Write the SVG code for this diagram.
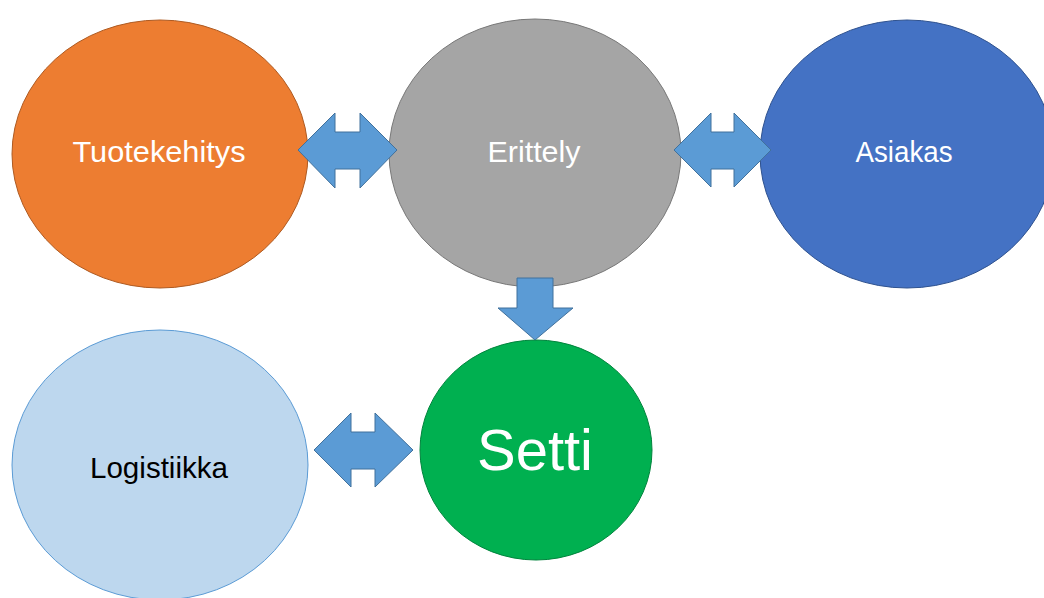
<svg xmlns="http://www.w3.org/2000/svg" width="1044" height="598" viewBox="0 0 1044 598">
<defs>
<style>
.lbl{font-family:"Liberation Sans",Arial,sans-serif;font-size:30px;text-anchor:middle;fill:#ffffff}
.arr{fill:#5B9BD5;stroke:#41719C;stroke-width:1}
</style>
</defs>
<rect width="1044" height="598" fill="#ffffff"/>
<g id="tuotekehitys">
<ellipse cx="160" cy="154" rx="148" ry="134" fill="#ED7D31" stroke="#AE5A21" stroke-width="1"/>
<text class="lbl" x="159" y="162" textLength="173" lengthAdjust="spacingAndGlyphs">Tuotekehitys</text>
</g>
<g id="erittely">
<ellipse cx="535" cy="153" rx="146" ry="134" fill="#A5A5A5" stroke="#787878" stroke-width="1"/>
<text class="lbl" x="534" y="162" textLength="93" lengthAdjust="spacingAndGlyphs">Erittely</text>
</g>
<g id="asiakas">
<ellipse cx="907" cy="154" rx="147" ry="134" fill="#4472C4" stroke="#2F528F" stroke-width="1"/>
<text class="lbl" x="904" y="162" textLength="97" lengthAdjust="spacingAndGlyphs">Asiakas</text>
</g>
<g id="logistiikka">
<ellipse cx="160" cy="465" rx="148" ry="135" fill="#BDD7EE" stroke="#5B9BD5" stroke-width="1"/>
<text class="lbl" x="159" y="478" textLength="138" lengthAdjust="spacingAndGlyphs" style="fill:#000000">Logistiikka</text>
</g>
<g id="setti">
<ellipse cx="536" cy="450" rx="116" ry="110" fill="#00B050" stroke="#00843C" stroke-width="1"/>
<text class="lbl" x="535" y="470" textLength="116" lengthAdjust="spacingAndGlyphs" style="font-size:58px">Setti</text>
</g>
<g id="connectors">
<polygon class="arr" points="298,150 335,113 335,132 360,132 360,113 397,150 360,188 360,169 335,169 335,188"/>
<polygon class="arr" points="674,150 711,113 711,132 734,132 734,113 771,150 734,187 734,169 711,169 711,187"/>
<polygon class="arr" points="517,278 553,278 553,308 573,308 535,340 498,308 517,308"/>
<polygon class="arr" points="314,450 351,413 351,432 375,432 375,413 413,450 375,487 375,469 351,469 351,487"/>
</g>
</svg>
